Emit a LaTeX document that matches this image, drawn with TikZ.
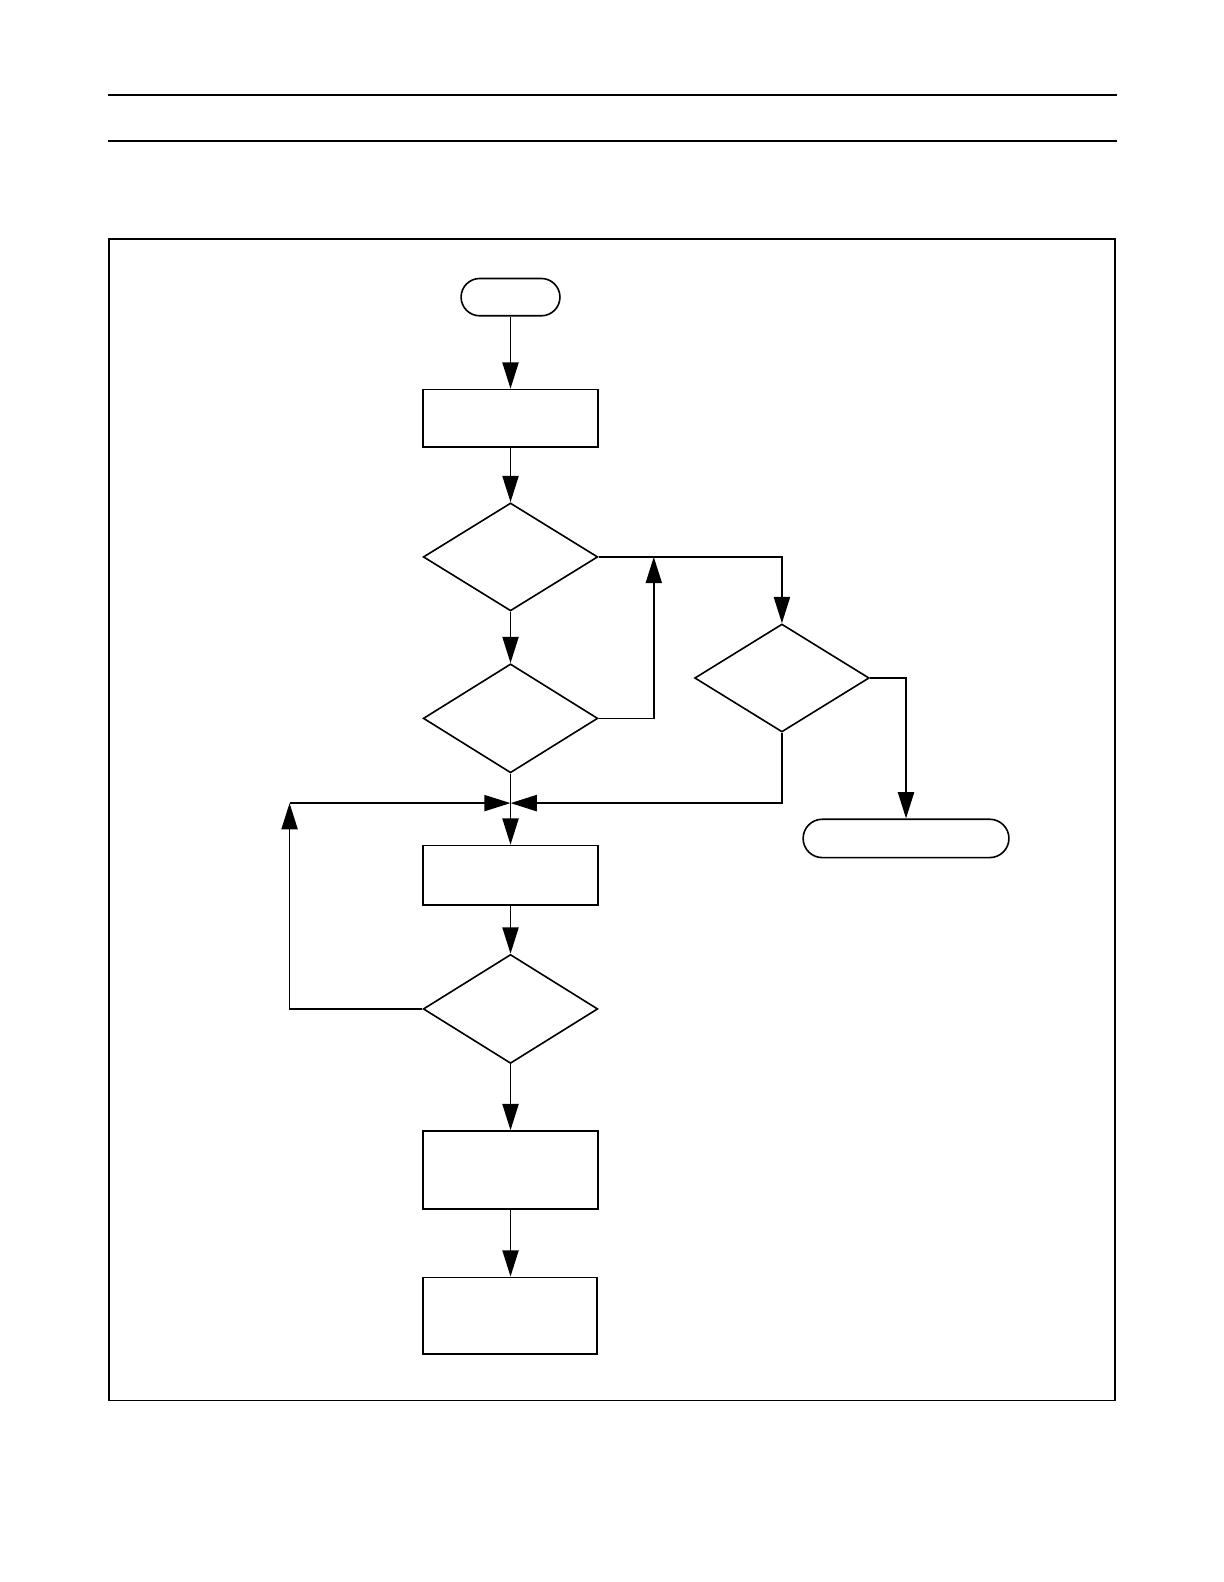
\documentclass[tikz,border=0pt]{standalone}
\usetikzlibrary{shapes.geometric,arrows.meta}
\begin{document}
\begin{tikzpicture}[x=1pt,y=-1pt,
  ln/.style={line width=1.6pt},
  arr/.style={ln,-{Triangle[length=26pt,width=16pt]}},
  procbox/.style={draw,ln,rectangle,minimum width=173pt,minimum height=57pt,inner sep=0pt},
  decision/.style={draw,ln,diamond,minimum width=173pt,minimum height=107pt,inner sep=0pt},
  term/.style={draw,ln,rectangle,rounded corners=18.5pt,minimum height=37pt,inner sep=0pt}]
\useasboundingbox (0,0) rectangle (1213,1568);
\draw[ln] (107,94) -- (1107,94);
\draw[ln] (107,140) -- (1107,140);
\draw[ln] (108,237) rectangle (1105,1388);
\node[term,minimum width=98pt] (start) at (506,294.5) {};
\node[procbox] (b1) at (506,414.5) {};
\node[decision] (d1) at (506,552) {};
\node[decision,minimum height=108pt] (d2) at (506,712) {};
\node[decision] (d3) at (775,672) {};
\node[term,minimum width=204pt,minimum height=38pt,rounded corners=19pt] (end) at (898,831) {};
\node[procbox,minimum height=59pt] (b2) at (506,867.5) {};
\node[decision,minimum height=108pt] (d4) at (506,1000) {};
\node[procbox,minimum height=77pt] (b3) at (506,1159.5) {};
\node[procbox,minimum height=76pt] (b4) at (505.5,1304) {};
\coordinate (J) at (506,796);
\coordinate (M) at (648,552);
\coordinate (L) at (287,796);
\draw[arr] (start) -- (b1);
\draw[arr] (b1) -- (d1);
\draw[arr] (d1) -- (d2);
\draw[arr] (d1.east) -| (d3.north);
\draw[arr] (d2.east) -| (M);
\draw[arr] (d3.east) -| (end.north);
\draw[ln] (d2.south) -- (J);
\draw[arr] (J) -- (b2);
\draw[arr] (d3.south) |- (J);
\draw[arr] (b2) -- (d4);
\draw[arr] (d4.west) -| (L);
\draw[arr] (L) -- (J);
\draw[arr] (d4) -- (b3);
\draw[arr] (b3.south) -- (b3.south |- b4.north);
\end{tikzpicture}
\end{document}
